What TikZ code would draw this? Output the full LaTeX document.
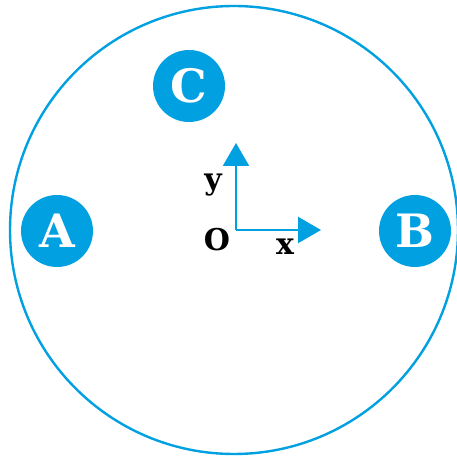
\documentclass[tikz,border=0pt]{standalone}
\usepackage{fontspec}
\setmainfont{DejaVu Serif}
\usetikzlibrary{arrows.meta, positioning}
\definecolor{rimblue}{RGB}{0,160,225}
\tikzset{
  rim circle/.style={
    circle, draw=rimblue, line width=2.4pt, minimum size=448pt, inner sep=0pt
  },
  pt disk/.style={
    circle, fill=rimblue, minimum size=72pt, inner sep=0pt,
    text=white, font=\fontsize{46}{46}\selectfont\bfseries
  },
  axis arrow/.style={
    -{Triangle[length=23pt, width=26pt]}, line width=2.4pt, draw=rimblue
  },
  axis label/.style={
    font=\fontsize{30}{30}\selectfont\bfseries, inner sep=0pt
  }
}
\begin{document}
\begin{tikzpicture}[x=1pt, y=1pt]
  \useasboundingbox (0,0) rectangle (457,458);
  \node (rim) [rim circle] at (234,228) {};
  \node (A) [pt disk] at (57,227) {A};
  \node (B) [pt disk] at (415,227) {B};
  \node (C) [pt disk] at (189,372) {C};

  \coordinate (O) at (236,228);
  \coordinate (xtip) at (321,228);
  \coordinate (ytip) at (236,315);
  \draw [axis arrow] (O) -- (xtip);
  \draw [axis arrow] (O) -- (ytip);

  \node (Olabel) [axis label] at (217,218) {O};
  \node (xlabel) [axis label] at (285,211) {x};
  \node (ylabel) [axis label] at (213,273) {y};
\end{tikzpicture}
\end{document}
